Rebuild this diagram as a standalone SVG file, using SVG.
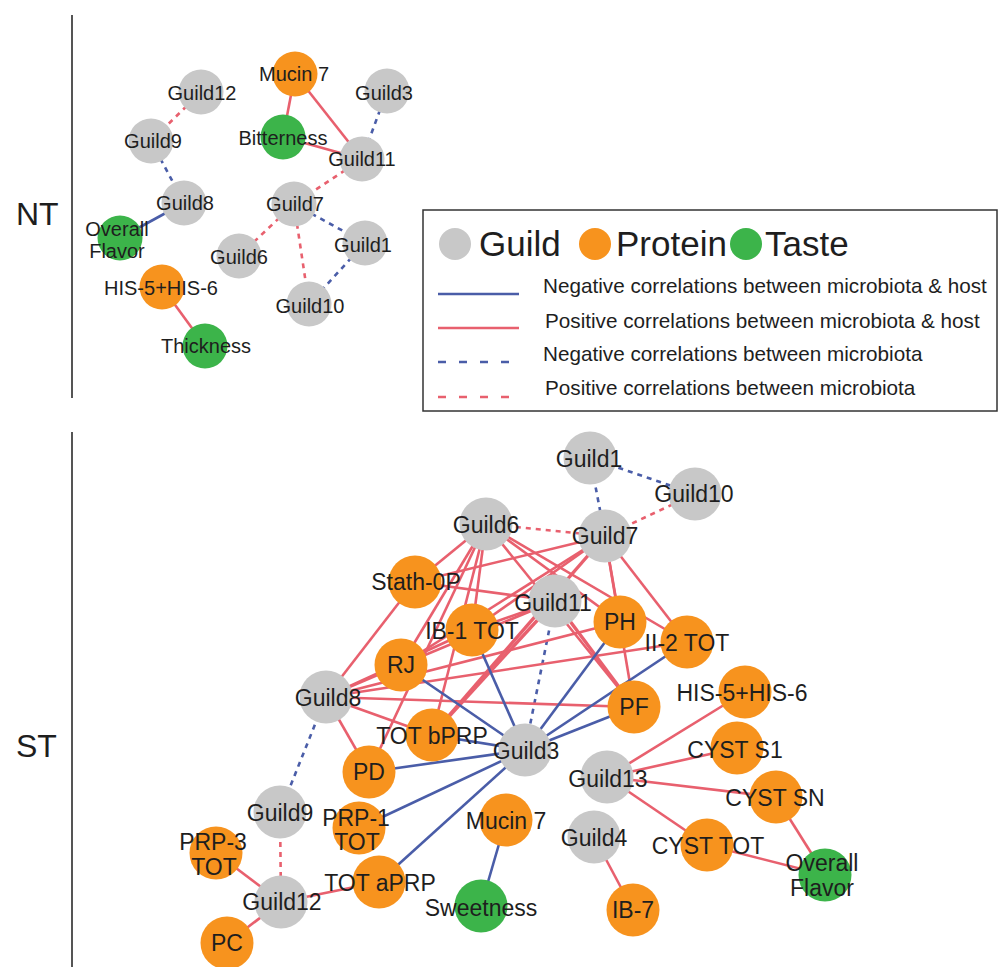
<svg xmlns="http://www.w3.org/2000/svg" width="1004" height="967" viewBox="0 0 1004 967">
<style>
text{font-family:"Liberation Sans",Arial,sans-serif;fill:#1e1e1e;text-anchor:middle}
.nt text{font-size:20px}
.st text{font-size:23px}
.g{fill:#c8c8c8}
.o{fill:#f7931e}
.t{fill:#3cb44a}
.pr{stroke:#e8606e;stroke-width:2.6;fill:none}
.nb{stroke:#4a5da8;stroke-width:2.6;fill:none}
.pd{stroke:#e8606e;stroke-width:2.6;stroke-dasharray:5 5;fill:none}
.ndash{stroke:#4a5da8;stroke-width:2.6;stroke-dasharray:5 5;fill:none}
.side{font-size:32px;text-anchor:start}
.leg{font-size:20.7px;text-anchor:start}
.legbig{font-size:35px;text-anchor:start}
</style>
<rect width="1004" height="967" fill="#ffffff"/>

<!-- side labels and dividers -->
<g id="side">
<line x1="72" y1="15" x2="72" y2="398" stroke="#555" stroke-width="2"/>
<line x1="72" y1="432" x2="72" y2="967" stroke="#555" stroke-width="2"/>
<text class="side" x="16" y="225">NT</text>
<text class="side" x="16" y="757">ST</text>
</g>

<!-- NT connectors -->
<g id="nt-connectors">
<line class="pr" x1="295" y1="74" x2="283" y2="137"/>
<line class="pr" x1="295" y1="74" x2="362" y2="159"/>
<line class="pr" x1="283" y1="137" x2="362" y2="159"/>
<line class="ndash" x1="387" y1="91" x2="362" y2="159"/>
<line class="pd" x1="201" y1="92" x2="151" y2="141"/>
<line class="ndash" x1="151" y1="141" x2="184" y2="203"/>
<line class="nb" x1="184" y1="203" x2="120" y2="238"/>
<line class="pd" x1="362" y1="159" x2="294" y2="204"/>
<line class="pd" x1="294" y1="204" x2="239" y2="256"/>
<line class="pd" x1="294" y1="204" x2="309" y2="304"/>
<line class="ndash" x1="294" y1="204" x2="365" y2="243"/>
<line class="ndash" x1="365" y1="243" x2="309" y2="304"/>
<line class="pr" x1="162" y1="287" x2="205" y2="346"/>
</g>

<!-- NT nodes -->
<g class="nt">
<g id="nt-mucin7"><circle class="o" cx="295" cy="74" r="22.5"/><text x="294" y="81">Mucin 7</text></g>
<g id="nt-guild12"><circle class="g" cx="201" cy="92" r="22.5"/><text x="202" y="100">Guild12</text></g>
<g id="nt-guild3"><circle class="g" cx="387" cy="91" r="22.5"/><text x="384" y="100">Guild3</text></g>
<g id="nt-bitterness"><circle class="t" cx="283" cy="137" r="22.5"/><text x="283" y="145">Bitterness</text></g>
<g id="nt-guild9"><circle class="g" cx="151" cy="141" r="22.5"/><text x="153" y="148">Guild9</text></g>
<g id="nt-guild11"><circle class="g" cx="362" cy="159" r="22.5"/><text x="362" y="166">Guild11</text></g>
<g id="nt-guild8"><circle class="g" cx="184" cy="203" r="22.5"/><text x="185" y="210">Guild8</text></g>
<g id="nt-guild7"><circle class="g" cx="294" cy="204" r="22.5"/><text x="295" y="211">Guild7</text></g>
<g id="nt-overall-flavor"><circle class="t" cx="120" cy="238" r="22.5"/><text x="117" y="236">Overall</text><text x="117" y="258">Flavor</text></g>
<g id="nt-guild1"><circle class="g" cx="365" cy="243" r="22.5"/><text x="363" y="252">Guild1</text></g>
<g id="nt-guild6"><circle class="g" cx="239" cy="256" r="22.5"/><text x="239" y="264">Guild6</text></g>
<g id="nt-his"><circle class="o" cx="162" cy="287" r="22.5"/><text x="161" y="295">HIS-5+HIS-6</text></g>
<g id="nt-guild10"><circle class="g" cx="309" cy="304" r="22.5"/><text x="310" y="313">Guild10</text></g>
<g id="nt-thickness"><circle class="t" cx="205" cy="346" r="22.5"/><text x="206" y="353">Thickness</text></g>
</g>

<!-- legend -->
<g id="legend">
<rect x="423" y="210" width="574" height="201" fill="#fff" stroke="#333" stroke-width="1.5"/>
<circle class="g" cx="455" cy="244" r="16"/>
<text class="legbig" x="479" y="256">Guild</text>
<circle class="o" cx="595" cy="244" r="16"/>
<text class="legbig" x="616" y="256">Protein</text>
<circle class="t" cx="746" cy="244" r="16"/>
<text class="legbig" x="765" y="256">Taste</text>
<line class="nb" x1="438" y1="294" x2="519" y2="294"/>
<text class="leg" x="543" y="293">Negative correlations between microbiota &amp; host</text>
<line class="pr" x1="438" y1="328" x2="519" y2="328"/>
<text class="leg" x="545" y="328">Positive correlations between microbiota &amp; host</text>
<line class="ndash" x1="438" y1="362" x2="519" y2="362" style="stroke-dasharray:8 13"/>
<text class="leg" x="543" y="361">Negative correlations between microbiota</text>
<line class="pd" x1="438" y1="397" x2="519" y2="397" style="stroke-dasharray:8 13"/>
<text class="leg" x="545" y="395">Positive correlations between microbiota</text>
</g>

<!-- ST connectors -->
<g id="st-connectors">
<!-- dashed -->
<line class="ndash" x1="590" y1="458" x2="695" y2="494"/>
<line class="ndash" x1="590" y1="458" x2="605" y2="536"/>
<line class="pd" x1="486" y1="524" x2="605" y2="536"/>
<line class="pd" x1="605" y1="536" x2="695" y2="494"/>
<line class="ndash" x1="555" y1="601" x2="525" y2="750"/>
<line class="ndash" x1="326" y1="697" x2="280" y2="812"/>
<line class="pd" x1="280" y1="812" x2="281" y2="902"/>
<!-- Guild6 positive -->
<line class="pr" x1="486" y1="524" x2="415" y2="582"/>
<line class="pr" x1="486" y1="524" x2="401" y2="665"/>
<line class="pr" x1="486" y1="524" x2="472" y2="630"/>
<line class="pr" x1="486" y1="524" x2="432" y2="735"/>
<line class="pr" x1="486" y1="524" x2="369" y2="772"/>
<line class="pr" x1="486" y1="524" x2="620" y2="622"/>
<line class="pr" x1="486" y1="524" x2="687" y2="642"/>
<line class="pr" x1="486" y1="524" x2="634" y2="707"/>
<!-- Guild7 positive -->
<line class="pr" x1="605" y1="536" x2="415" y2="582"/>
<line class="pr" x1="605" y1="536" x2="401" y2="665"/>
<line class="pr" x1="605" y1="536" x2="472" y2="630"/>
<line class="pr" x1="605" y1="536" x2="432" y2="735" style="stroke-width:3.4"/>
<line class="pr" x1="605" y1="536" x2="620" y2="622"/>
<line class="pr" x1="605" y1="536" x2="687" y2="642"/>
<line class="pr" x1="605" y1="536" x2="634" y2="707"/>
<!-- Guild8 positive -->
<line class="pr" x1="326" y1="697" x2="415" y2="582"/>
<line class="pr" x1="326" y1="697" x2="401" y2="665"/>
<line class="pr" x1="326" y1="697" x2="472" y2="630"/>
<line class="pr" x1="326" y1="697" x2="432" y2="735"/>
<line class="pr" x1="326" y1="697" x2="369" y2="772"/>
<line class="pr" x1="326" y1="697" x2="620" y2="622"/>
<line class="pr" x1="326" y1="697" x2="687" y2="642"/>
<line class="pr" x1="326" y1="697" x2="634" y2="707"/>
<!-- Guild11 positive -->
<line class="pr" x1="555" y1="601" x2="415" y2="582"/>
<line class="pr" x1="555" y1="601" x2="401" y2="665"/>
<line class="pr" x1="555" y1="601" x2="472" y2="630"/>
<line class="pr" x1="555" y1="601" x2="432" y2="735" style="stroke-width:3.4"/>
<line class="pr" x1="555" y1="601" x2="634" y2="707" style="stroke-width:3.4"/>
<!-- Guild3 negative -->
<line class="nb" x1="525" y1="750" x2="472" y2="630"/>
<line class="nb" x1="525" y1="750" x2="401" y2="665"/>
<line class="nb" x1="525" y1="750" x2="432" y2="735"/>
<line class="nb" x1="525" y1="750" x2="369" y2="772"/>
<line class="nb" x1="525" y1="750" x2="359" y2="828"/>
<line class="nb" x1="525" y1="750" x2="379" y2="882"/>
<line class="nb" x1="525" y1="750" x2="634" y2="707"/>
<line class="nb" x1="525" y1="750" x2="687" y2="642"/>
<line class="nb" x1="525" y1="750" x2="620" y2="622"/>
<line class="nb" x1="506" y1="820" x2="481" y2="906"/>
<!-- others -->
<line class="pr" x1="281" y1="902" x2="216" y2="853"/>
<line class="pr" x1="281" y1="902" x2="227" y2="943"/>
<line class="pr" x1="281" y1="902" x2="379" y2="882"/>
<line class="pr" x1="607" y1="777" x2="745" y2="692"/>
<line class="pr" x1="607" y1="777" x2="737" y2="748"/>
<line class="pr" x1="607" y1="777" x2="776" y2="797"/>
<line class="pr" x1="607" y1="777" x2="707" y2="845"/>
<line class="pr" x1="776" y1="797" x2="825" y2="875"/>
<line class="pr" x1="707" y1="845" x2="825" y2="875"/>
<line class="pr" x1="594" y1="837" x2="633" y2="910"/>
</g>

<!-- ST nodes -->
<g class="st">
<g id="st-guild1"><circle class="g" cx="590" cy="458" r="26.5"/><text x="589" y="467">Guild1</text></g>
<g id="st-guild10"><circle class="g" cx="695" cy="494" r="26.5"/><text x="694" y="502">Guild10</text></g>
<g id="st-guild6"><circle class="g" cx="486" cy="524" r="26.5"/><text x="486" y="533">Guild6</text></g>
<g id="st-guild7"><circle class="g" cx="605" cy="536" r="26.5"/><text x="605" y="544">Guild7</text></g>
<g id="st-stath0p"><circle class="o" cx="415" cy="582" r="26.5"/><text x="416" y="590">Stath-0P</text></g>
<g id="st-guild11"><circle class="g" cx="555" cy="601" r="26.5"/><text x="553" y="611">Guild11</text></g>
<g id="st-rj"><circle class="o" cx="401" cy="665" r="26.5"/><text x="401" y="673">RJ</text></g>
<g id="st-ib1tot"><circle class="o" cx="472" cy="630" r="26.5"/><text x="472" y="639">IB-1 TOT</text></g>
<g id="st-ph"><circle class="o" cx="620" cy="622" r="26.5"/><text x="620" y="630">PH</text></g>
<g id="st-ii2tot"><circle class="o" cx="687" cy="642" r="26.5"/><text x="687" y="651">II-2 TOT</text></g>
<g id="st-his"><circle class="o" cx="745" cy="692" r="26.5"/><text x="742" y="701">HIS-5+HIS-6</text></g>
<g id="st-guild8"><circle class="g" cx="326" cy="697" r="26.5"/><text x="328" y="706">Guild8</text></g>
<g id="st-pf"><circle class="o" cx="634" cy="707" r="26.5"/><text x="634" y="715">PF</text></g>
<g id="st-totbprp"><circle class="o" cx="432" cy="735" r="26.5"/><text x="432" y="744">TOT bPRP</text></g>
<g id="st-guild3"><circle class="g" cx="525" cy="750" r="26.5"/><text x="526" y="759">Guild3</text></g>
<g id="st-cysts1"><circle class="o" cx="737" cy="748" r="26.5"/><text x="735" y="758">CYST S1</text></g>
<g id="st-pd"><circle class="o" cx="369" cy="772" r="26.5"/><text x="369" y="780">PD</text></g>
<g id="st-guild13"><circle class="g" cx="607" cy="777" r="26.5"/><text x="608" y="787">Guild13</text></g>
<g id="st-cystsn"><circle class="o" cx="776" cy="797" r="26.5"/><text x="775" y="806">CYST SN</text></g>
<g id="st-guild9"><circle class="g" cx="280" cy="812" r="26.5"/><text x="280" y="821">Guild9</text></g>
<g id="st-mucin7"><circle class="o" cx="506" cy="820" r="26.5"/><text x="506" y="829">Mucin 7</text></g>
<g id="st-prp1tot"><circle class="o" cx="359" cy="828" r="26.5"/><text x="356" y="826">PRP-1</text><text x="357" y="850">TOT</text></g>
<g id="st-guild4"><circle class="g" cx="594" cy="837" r="26.5"/><text x="594" y="846">Guild4</text></g>
<g id="st-cysttot"><circle class="o" cx="707" cy="845" r="26.5"/><text x="708" y="854">CYST TOT</text></g>
<g id="st-prp3tot"><circle class="o" cx="216" cy="853" r="26.5"/><text x="213" y="850">PRP-3</text><text x="214" y="875">TOT</text></g>
<g id="st-totaprp"><circle class="o" cx="379" cy="882" r="26.5"/><text x="380" y="891">TOT aPRP</text></g>
<g id="st-overall-flavor"><circle class="t" cx="825" cy="875" r="26.5"/><text x="822" y="871">Overall</text><text x="822" y="896">Flavor</text></g>
<g id="st-guild12"><circle class="g" cx="281" cy="902" r="26.5"/><text x="282" y="910">Guild12</text></g>
<g id="st-sweetness"><circle class="t" cx="481" cy="906" r="26.5"/><text x="481" y="916">Sweetness</text></g>
<g id="st-ib7"><circle class="o" cx="633" cy="910" r="26.5"/><text x="633" y="918">IB-7</text></g>
<g id="st-pc"><circle class="o" cx="227" cy="943" r="26.5"/><text x="227" y="951">PC</text></g>
</g>
</svg>
